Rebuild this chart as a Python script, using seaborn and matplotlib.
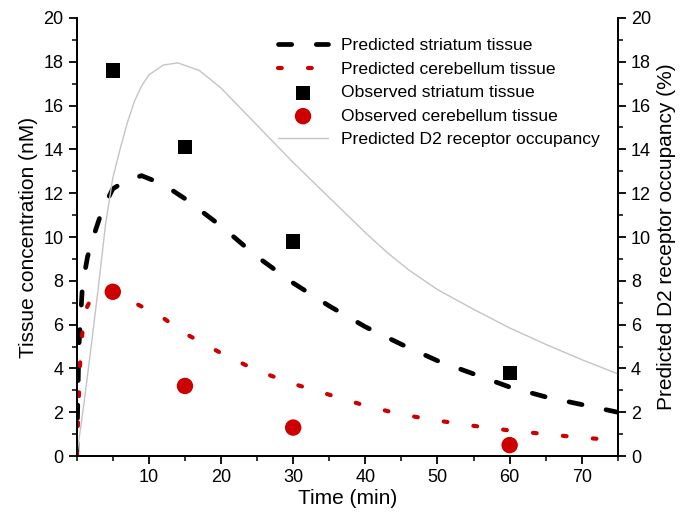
import matplotlib
matplotlib.use('Agg')
import matplotlib.pyplot as plt
from matplotlib.ticker import MultipleLocator
import seaborn as sns

# predicted tissue concentrations (nM)
striatum_t = [0, 0.3, 0.8, 1.5, 2.5, 3.5, 5, 7, 9, 12, 15, 20, 25, 30, 35, 40, 45, 50, 55, 60, 65, 70, 75]
striatum_pred = [0, 5.0, 7.8, 9.1, 10.2, 11.2, 12.2, 12.6, 12.8, 12.4, 11.75, 10.5, 9.1, 7.9, 6.85,
                 5.9, 5.1, 4.35, 3.75, 3.15, 2.7, 2.35, 2.0]

cerebellum_t = [0, 0.5, 1, 2, 3, 5, 8, 12, 15, 20, 25, 30, 35, 40, 45, 50, 55, 60, 65, 70, 75]
cerebellum_pred = [0, 4.5, 6.5, 7.2, 7.4, 7.4, 7.0, 6.3, 5.6, 4.7, 3.9, 3.3, 2.8, 2.3, 1.9,
                   1.62, 1.38, 1.17, 1.0, 0.84, 0.72]

# observed values
obs_t = [5, 15, 30, 60]
striatum_obs = [17.6, 14.1, 9.8, 3.8]
cerebellum_obs = [7.5, 3.2, 1.3, 0.5]

# predicted D2 receptor occupancy (%)
occ_t = [0, 1, 2, 3, 4, 5, 6, 7, 8, 9, 10, 12, 14, 17, 20, 25, 30, 35, 40, 43, 46, 50, 55, 60, 65, 70, 75]
occ_pred = [0, 2.4, 5.0, 7.7, 10.6, 12.7, 14.0, 15.2, 16.2, 16.9, 17.4, 17.85, 17.95, 17.6, 16.8,
            15.1, 13.4, 11.8, 10.2, 9.3, 8.5, 7.6, 6.7, 5.85, 5.1, 4.4, 3.75]

RED = '#cc0000'

sns.set_style('ticks')
plt.rcParams['font.family'] = ['Liberation Sans', 'DejaVu Sans']
plt.rcParams.update({'text.color': 'black', 'axes.labelcolor': 'black',
                     'xtick.color': 'black', 'ytick.color': 'black',
                     'axes.edgecolor': 'black'})

fig, ax = plt.subplots(figsize=(6.85, 5.13), dpi=100)
fig.subplots_adjust(left=0.112, right=0.902, bottom=0.111, top=0.965)
ax2 = ax.twinx()

sns.lineplot(x=striatum_t, y=striatum_pred, ax=ax, color='black', lw=3.4,
             linestyle=(0, (2.8, 5.2)), dash_capstyle='round',
             label='Predicted striatum tissue', legend=False)
sns.lineplot(x=cerebellum_t, y=cerebellum_pred, ax=ax, color=RED, lw=3.0,
             linestyle=(0, (0.9, 6.3)), dash_capstyle='round',
             label='Predicted cerebellum tissue', legend=False)
sns.scatterplot(x=obs_t, y=striatum_obs, ax=ax, color='black', marker='s', s=105,
                edgecolor='none', label='Observed striatum tissue', legend=False, zorder=5)
sns.scatterplot(x=obs_t, y=cerebellum_obs, ax=ax, color=RED, marker='o', s=140,
                edgecolor='none', label='Observed cerebellum tissue', legend=False, zorder=5)
sns.lineplot(x=occ_t, y=occ_pred, ax=ax2, color='#c4c4c4', lw=1.0,
             label='Predicted D2 receptor occupancy', legend=False)

for a in (ax, ax2):
    a.set_xlim(0, 75)
    a.set_ylim(0, 20)
    a.yaxis.set_major_locator(MultipleLocator(2))
    a.yaxis.set_minor_locator(MultipleLocator(1))
    a.spines['top'].set_visible(False)
    for s in a.spines.values():
        s.set_linewidth(1.3)
        s.set_color('black')
    a.tick_params(which='major', direction='out', length=6, width=1.3, labelsize=13, colors='black')
    a.tick_params(which='minor', direction='out', length=3.5, width=1.1, colors='black')

ax.set_xticks([10, 20, 30, 40, 50, 60, 70])
ax.xaxis.set_minor_locator(MultipleLocator(5))
ax.set_xlabel('Time (min)', fontsize=15, labelpad=2)
ax.set_ylabel('Tissue concentration (nM)', fontsize=15, labelpad=4)
ax2.set_ylabel('Predicted D2 receptor occupancy (%)', fontsize=15, labelpad=4)

h1, l1 = ax.get_legend_handles_labels()
h2, l2 = ax2.get_legend_handles_labels()
leg = ax2.legend(h1 + h2, l1 + l2, loc='upper right', bbox_to_anchor=(0.995, 0.99),
                 frameon=False, fontsize=12.6, handlelength=2.9, handletextpad=0.7,
                 labelspacing=0.47)

plt.savefig('out.png', dpi=100)
